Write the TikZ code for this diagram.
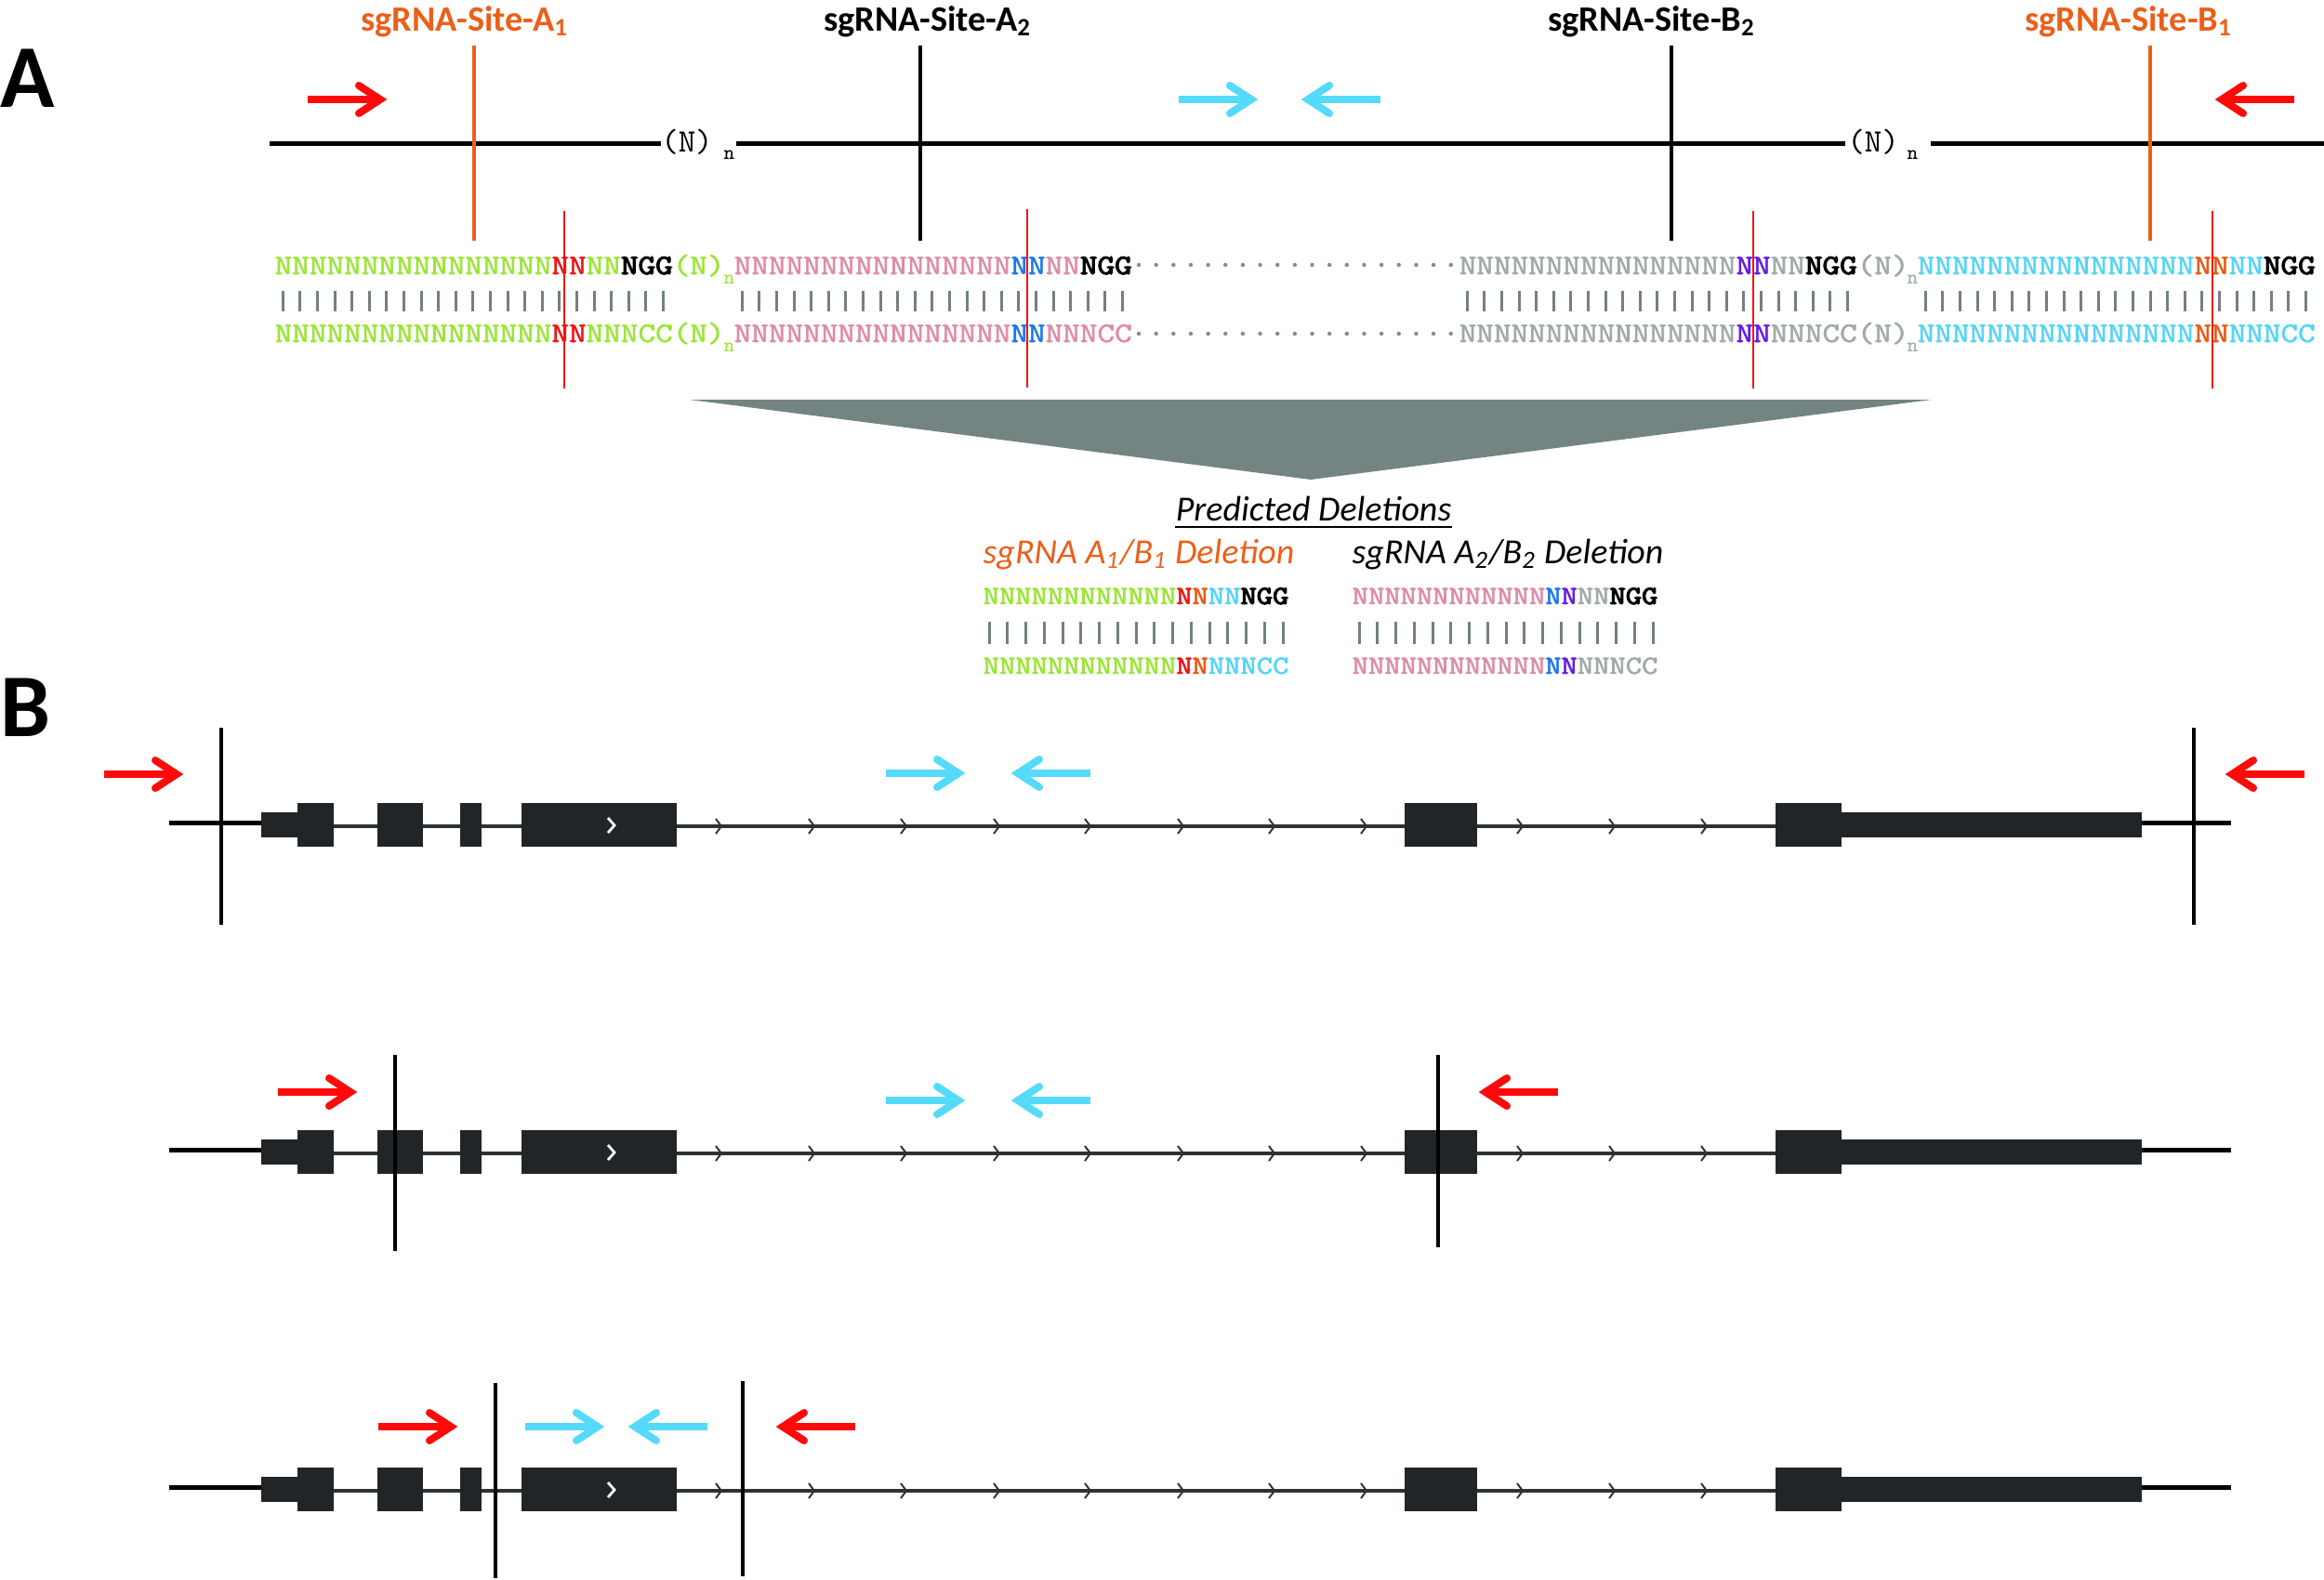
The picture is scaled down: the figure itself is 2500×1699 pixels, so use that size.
\documentclass[tikz,border=0pt]{standalone}
\usepackage{fontspec}
\usepackage{graphicx}
\setmainfont{Carlito}
\newfontfamily\seqf{Latin Modern Mono}[FakeBold=1.6]
\newfontfamily\seqbf{Latin Modern Mono}[FakeBold=3.2]
\newfontfamily\seqrm{Latin Modern Mono}
\definecolor{sgreen}{RGB}{155,229,55}
\definecolor{spink}{RGB}{222,140,165}
\definecolor{sgrey}{RGB}{160,170,168}
\definecolor{scyan}{RGB}{85,212,246}
\definecolor{sred}{RGB}{240,20,20}
\definecolor{sorange}{RGB}{235,90,20}
\definecolor{sblue}{RGB}{30,120,235}
\definecolor{sviolet}{RGB}{100,30,230}
\definecolor{laborange}{RGB}{235,95,25}
\definecolor{barcol}{RGB}{115,128,128}
\definecolor{dotcol}{RGB}{130,140,140}
\definecolor{arrred}{RGB}{255,10,10}
\definecolor{arrcyan}{RGB}{85,218,250}
\definecolor{boxcol}{RGB}{33,37,39}
\definecolor{intron}{RGB}{45,50,52}
\definecolor{tricol}{RGB}{115,132,130}
\newcommand\Nsix{NNNNNNNNNNNNNNNN}
\newcommand\Ntw{NNNNNNNNNNNN}
\newcommand\NGG{{\seqbf NGG}}
\newcommand\sq[1]{\scalebox{1}[0.86]{#1}}
\begin{document}
\begin{tikzpicture}[x=0.01cm,y=-0.01cm,
  seqtxt/.style={anchor=base west,inner sep=0pt,font=\fontsize{10.08}{12}\seqf},
  deltxt/.style={anchor=base west,inner sep=0pt,font=\fontsize{9.37}{11}\seqf},
  subn/.style={anchor=base west,inner sep=0pt,font=\fontsize{6.2}{7}\seqrm},
  topn/.style={anchor=base,inner sep=0pt,font=\fontsize{10}{12}\seqrm},
  sitelab/.style={anchor=base,inner sep=0pt,font=\bfseries\fontsize{10.9}{12}\selectfont},
  panel/.style={anchor=base west,inner sep=0pt,font=\bfseries\fontsize{27.4}{30}\selectfont},
  dellab/.style={anchor=base west,inner sep=0pt,font=\itshape\fontsize{10.8}{12}\selectfont},
  bar/.style={barcol,line width=0.85pt},
  cutline/.style={sred,line width=0.57pt},
  siteline/.style={line width=1.4pt},
  dna/.style={line width=1.42pt},
  exon/.style={fill=boxcol,draw=none},
  gline/.style={line width=1pt},
  chev/.style={intron,line width=0.55pt},
  primer/.pic={
    \draw[line width=2.28pt] (-85,0) -- (-8,0);
    \draw[line width=2.28pt,line cap=round,line join=miter,miter limit=20] (-30,-15) -- (-7,0) -- (-30,15);
  }]
\useasboundingbox (0,0) rectangle (2500,1699);

% ---------------- Panel A ----------------
\node[panel] (labA) at (0,115) {A};

% site labels
\node[sitelab,laborange] (lA1) at (500,33) {sgRNA-Site-A\textsubscript{1}};
\node[sitelab] (lA2) at (998,33) {sgRNA-Site-A\textsubscript{2}};
\node[sitelab] (lB2) at (1777,33) {sgRNA-Site-B\textsubscript{2}};
\node[sitelab,laborange] (lB1) at (2290,33) {sgRNA-Site-B\textsubscript{1}};

% top DNA line
\coordinate (t0) at (290,154);
\coordinate (t1) at (711,154);
\coordinate (t2) at (792,154);
\coordinate (t3) at (1985,154);
\coordinate (t4) at (2077,154);
\coordinate (t5) at (2500,154);
\draw[dna] (t0) -- (t1);
\draw[dna] (t2) -- (t3);
\draw[dna] (t4) -- (t5);
\node[topn] (tn1) at (739,163) {(N)};
\node[subn] (tn1s) at (778,171) {n};
\node[topn] (tn2) at (2015,163) {(N)};
\node[subn] (tn2s) at (2051,171) {n};

% site verticals
\draw[siteline,laborange] (510,49) -- (510,259);
\draw[siteline] (990,49) -- (990,259);
\draw[siteline] (1798,49) -- (1798,259);
\draw[siteline,laborange] (2313,49) -- (2313,259);

% primers (top)
\pic[color=arrred] at (416,107) {primer};
\pic[color=arrcyan] at (1353,107) {primer};
\pic[color=arrcyan,xscale=-1] at (1400,107) {primer};
\pic[color=arrred,xscale=-1] at (2383,107) {primer};

% sequences, row 1
\node[seqtxt] (g1) at (295,295) {\sq{\textcolor{sgreen}{\Nsix}\textcolor{sred}{NN}\textcolor{sgreen}{NN}\textcolor{black}{\NGG}\textcolor{sgreen}{(N)}}};
\node[subn,sgreen] (g1n) at (778,305) {n};
\node[seqtxt] (p1) at (789,295) {\sq{\textcolor{spink}{\Nsix}\textcolor{sblue}{NN}\textcolor{spink}{NN}\textcolor{black}{\NGG}}};
\node[seqtxt] (r1) at (1569,295) {\sq{\textcolor{sgrey}{\Nsix}\textcolor{sviolet}{NN}\textcolor{sgrey}{NN}\textcolor{black}{\NGG}\textcolor{sgrey}{(N)}}};
\node[subn,sgrey] (r1n) at (2051,305) {n};
\node[seqtxt] (c1) at (2062,295) {\sq{\textcolor{scyan}{\Nsix}\textcolor{sorange}{NN}\textcolor{scyan}{NN}\textcolor{black}{\NGG}}};
% row 2
\node[seqtxt] (g2) at (295,368) {\sq{\textcolor{sgreen}{\Nsix}\textcolor{sred}{NN}\textcolor{sgreen}{NNNCC(N)}}};
\node[subn,sgreen] (g2n) at (778,378) {n};
\node[seqtxt] (p2) at (789,368) {\sq{\textcolor{spink}{\Nsix}\textcolor{sblue}{NN}\textcolor{spink}{NNNCC}}};
\node[seqtxt] (r2) at (1569,368) {\sq{\textcolor{sgrey}{\Nsix}\textcolor{sviolet}{NN}\textcolor{sgrey}{NNNCC(N)}}};
\node[subn,sgrey] (r2n) at (2051,378) {n};
\node[seqtxt] (c2) at (2062,368) {\sq{\textcolor{scyan}{\Nsix}\textcolor{sorange}{NN}\textcolor{scyan}{NNNCC}}};

% pairing bars
\foreach \s in {295,789,1569,2062}
  \foreach \i in {0,...,22}
    \draw[bar] ({\s+9.3+\i*18.6},313) -- ({\s+9.3+\i*18.6},335);

% dotted gap
\foreach \i in {0,...,18} {
  \fill[dotcol] ({1225+\i*18.65},285) circle (2.2);
  \fill[dotcol] ({1225+\i*18.65},359) circle (2.2);
}

% cut lines
\draw[cutline] (607,227) -- (607,418);
\draw[cutline] (1105,225) -- (1105,417);
\draw[cutline] (1886,227) -- (1886,418);
\draw[cutline] (2380,227) -- (2380,418);

% triangle
\fill[tricol] (742,430) -- (2078,430) -- (1410,516) -- cycle;

% predicted deletions
\node[anchor=base,inner sep=0pt,font=\itshape\fontsize{10.8}{12}\selectfont] (pd) at (1413,560) {Predicted Deletions};
\draw[line width=0.7pt] ([yshift=-2pt]pd.base west) -- ([yshift=-2pt]pd.base east);
\node[dellab,laborange] (d1) at (1057,606) {sgRNA A\textsubscript{1}/B\textsubscript{1} Deletion};
\node[dellab] (d2) at (1454,606) {sgRNA A\textsubscript{2}/B\textsubscript{2} Deletion};
\node[deltxt] (dl1) at (1057,650) {\sq{\textcolor{sgreen}{\Ntw}\textcolor{sred}{N}\textcolor{sorange}{N}\textcolor{scyan}{NN}\textcolor{black}{\NGG}}};
\node[deltxt] (dl2) at (1057,725) {\sq{\textcolor{sgreen}{\Ntw}\textcolor{sred}{N}\textcolor{sorange}{N}\textcolor{scyan}{NNNCC}}};
\node[deltxt] (dr1) at (1454,650) {\sq{\textcolor{spink}{\Ntw}\textcolor{sblue}{N}\textcolor{sviolet}{N}\textcolor{sgrey}{NN}\textcolor{black}{\NGG}}};
\node[deltxt] (dr2) at (1454,725) {\sq{\textcolor{spink}{\Ntw}\textcolor{sblue}{N}\textcolor{sviolet}{N}\textcolor{sgrey}{NNNCC}}};
\foreach \s in {1064,1462}
  \foreach \i in {0,...,16}
    \draw[bar] ({\s+\i*19.75},669) -- ({\s+\i*19.75},693);

% ---------------- Panel B ----------------
\node[panel] (labB) at (0,792) {B};

\foreach \dy in {0,352,715} {
  \begin{scope}[shift={(0,\dy)}]
    \draw[dna] (182,885) -- (281,885);
    \draw[intron,line width=0.9pt] (281,889) -- (2304,889);
    \fill[exon] (281,874) rectangle (320,901);
    \fill[exon] (320,864) rectangle (359,911);
    \fill[exon] (406,864) rectangle (455,911);
    \fill[exon] (495,864) rectangle (518,911);
    \fill[exon] (561,864) rectangle (728,911);
    \fill[exon] (1511,864) rectangle (1589,911);
    \fill[exon] (1910,864) rectangle (1981,911);
    \fill[exon] (1981,874) rectangle (2304,901);
    \draw[dna] (2304,885) -- (2400,885);
    \foreach \c in {773,873,972,1072,1170,1270,1368,1467,1635,1734,1833}
      \draw[chev] ({\c-3},881) -- ({\c+3},889) -- ({\c-3},897);
    \draw[white,line width=0.8pt] (654,880) -- (661,888) -- (654,896);
  \end{scope}
}

% row 1
\draw[gline] (238,783) -- (238,995);
\draw[gline] (2360,783) -- (2360,995);
\pic[color=arrred] at (197,833) {primer};
\pic[color=arrcyan] at (1038,832) {primer};
\pic[color=arrcyan,xscale=-1] at (1088,832) {primer};
\pic[color=arrred,xscale=-1] at (2394,833) {primer};

% row 2
\draw[gline] (425,1135) -- (425,1346);
\draw[gline] (1547,1135) -- (1547,1342);
\pic[color=arrred] at (384,1175) {primer};
\pic[color=arrcyan] at (1038,1184) {primer};
\pic[color=arrcyan,xscale=-1] at (1088,1184) {primer};
\pic[color=arrred,xscale=-1] at (1591,1175) {primer};

% row 3
\draw[gline] (533,1488) -- (533,1698);
\draw[gline] (799,1486) -- (799,1696);
\pic[color=arrred] at (492,1535) {primer};
\pic[color=arrcyan] at (650,1535) {primer};
\pic[color=arrcyan,xscale=-1] at (676,1535) {primer};
\pic[color=arrred,xscale=-1] at (835,1535) {primer};
\end{tikzpicture}
\end{document}
